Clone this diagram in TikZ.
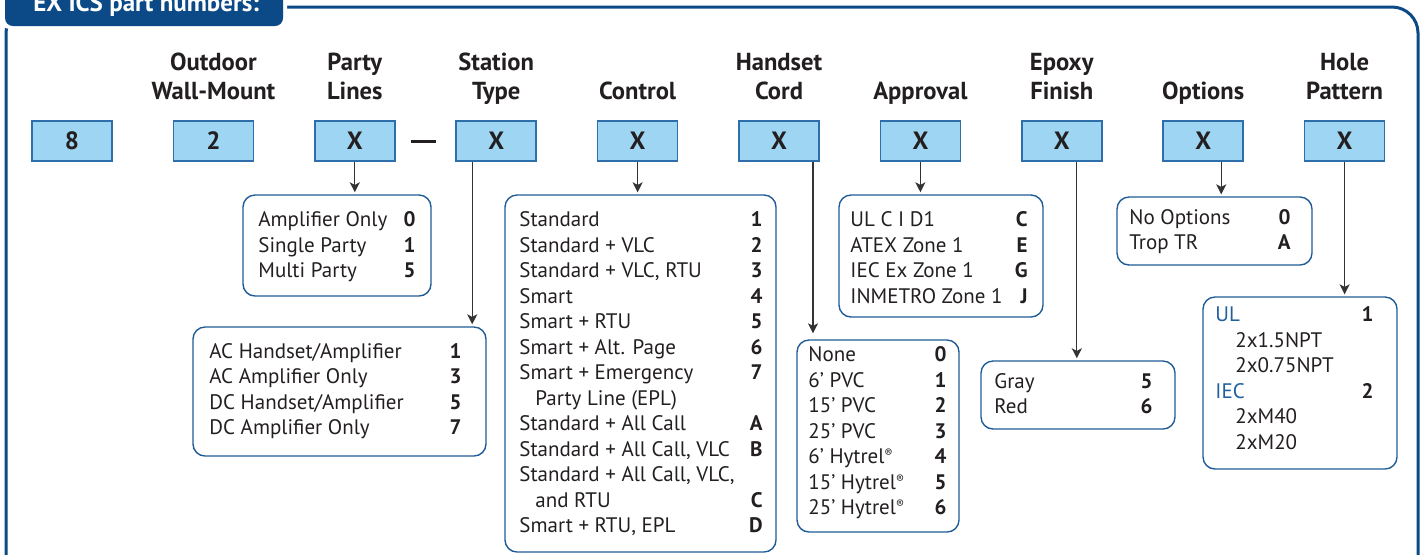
\documentclass[tikz,border=0pt]{standalone}
\usepackage{fontspec}
\setmainfont{PT Sans}
\usepackage{array}
\usetikzlibrary{arrows.meta}
\definecolor{frameblue}{HTML}{0B4A87}
\definecolor{boxfill}{HTML}{9DD5F2}
\definecolor{boxline}{HTML}{2E6EAA}
\definecolor{optline}{HTML}{1F5C97}
\definecolor{txt}{HTML}{231F20}
\definecolor{arrgray}{HTML}{333333}
\definecolor{ulblue}{HTML}{1F5FA0}
\newcommand{\regmark}{{\fontsize{6}{6}\selectfont\raisebox{3pt}{®}}}
\newcommand{\ind}[1]{\hspace*{#1}}
\begin{document}
\begin{tikzpicture}[x=0.5pt,y=-0.5pt,
  font=\fontsize{10.5}{12.75}\selectfont, text=txt,
  codebox/.style={draw=boxline, line width=0.75pt, fill=boxfill, minimum width=40pt, minimum height=20pt, inner sep=0pt, font=\fontsize{12.5}{14}\selectfont\bfseries},
  hdr/.style={anchor=base, inner sep=0pt, font=\fontsize{12.3}{14.5}\selectfont\bfseries},
  optbox/.style={draw=optline, line width=0.7pt, rounded corners=6pt, inner sep=0pt},
  lefttxt/.style={anchor=base west, inner sep=0pt},
  righttxt/.style={anchor=base east, inner sep=0pt, font=\fontsize{10.5}{12.75}\selectfont\bfseries},
  arr/.style={draw=arrgray, line width=0.65pt, shorten >=1pt, -{Stealth[length=5pt,width=5pt,inset=1.3pt]}},
  dashmark/.style={draw=txt, line width=1.5pt, shorten <=7.5pt, shorten >=9.5pt}
]
\useasboundingbox (0,0) rectangle (1422,554);
\clip (0,0) rectangle (1422,554);
\renewcommand\arraystretch{1}
% frame
\draw[frameblue, line width=1.5pt, rounded corners=13pt] (6,580) -- (6,7) -- (1418,7) -- (1418,580);
% title tab
\fill[white, rounded corners=5pt] (0,-30) rectangle (287,29);
\fill[frameblue, rounded corners=4pt] (5,-30) rectangle (283,26);
\node[anchor=base west, inner sep=0pt, text=white, font=\fontsize{12.5}{14}\selectfont\bfseries] (title) at (33,11) {EX ICS part numbers:};

% headers
\node[hdr] (h2) at (213.4,99) {\begin{tabular}[b]{@{}c@{}}Outdoor\\Wall-Mount\end{tabular}};
\node[hdr] (h3) at (354.8,99) {\begin{tabular}[b]{@{}c@{}}Party\\Lines\end{tabular}};
\node[hdr] (h4) at (496.2,99) {\begin{tabular}[b]{@{}c@{}}Station\\Type\end{tabular}};
\node[hdr] (h5) at (637.6,99) {Control};
\node[hdr] (h6) at (779,99) {\begin{tabular}[b]{@{}c@{}}Handset\\Cord\end{tabular}};
\node[hdr] (h7) at (920.4,99) {Approval};
\node[hdr] (h8) at (1061.8,99) {\begin{tabular}[b]{@{}c@{}}Epoxy\\Finish\end{tabular}};
\node[hdr] (h9) at (1203.2,99) {Options};
\node[hdr] (h10) at (1344.6,99) {\begin{tabular}[b]{@{}c@{}}Hole\\Pattern\end{tabular}};

% code boxes
\node[codebox] (c1) at (72,141) {8};
\node[codebox] (c2) at (213.4,141) {2};
\node[codebox] (pl) at (354.8,141) {X};
\node[codebox] (st) at (496.2,141) {X};
\node[codebox] (ct) at (637.6,141) {X};
\node[codebox] (hs) at (779,141) {X};
\node[codebox] (ap) at (920.4,141) {X};
\node[codebox] (ep) at (1061.8,141) {X};
\node[codebox] (op) at (1203.2,141) {X};
\node[codebox] (hp) at (1344.6,141) {X};
\draw[dashmark] (pl.east) -- (st.west);

% option boxes
\node[optbox, minimum width=94pt, minimum height=50.5pt] (plopt) at (337,245.5) {};
\node[optbox, minimum width=146.5pt, minimum height=64.5pt] (stopt) at (339.5,391.5) {};
\node[optbox, minimum width=135.5pt, minimum height=178.5pt] (ctopt) at (640.5,373.5) {};
\node[optbox, minimum width=81pt, minimum height=96pt] (hsopt) at (878,436) {};
\node[optbox, minimum width=102pt, minimum height=61pt] (apopt) at (941,256) {};
\node[optbox, minimum width=97pt, minimum height=34pt] (epopt) at (1078,395) {};
\node[optbox, minimum width=97.5pt, minimum height=34pt] (opopt) at (1214.5,231) {};
\node[optbox, minimum width=97pt, minimum height=86pt] (hpopt) at (1300,383) {};

% arrows
\draw[arr] (pl.south) -- (pl.south |- plopt.north);
\draw[arr] ([xshift=-12pt]st.south) -- ([xshift=-12pt]st.south |- stopt.north);
\draw[arr] (ct.south) -- (ct.south |- ctopt.north);
\draw[arr, shorten >=3pt] ([xshift=17pt]hs.south) -- ([xshift=17pt]hs.south |- hsopt.north);
\draw[arr] (ap.south) -- (ap.south |- apopt.north);
\draw[arr] ([xshift=7.5pt]ep.south) -- ([xshift=7.5pt]ep.south |- epopt.north);
\draw[arr] ([xshift=9pt]op.south) -- ([xshift=9pt]op.south |- opopt.north);
\draw[arr] (hp.south) -- (hp.south |- hpopt.north);

% texts
\node[lefttxt] (plL) at (258,226.5) {\begin{tabular}[t]{@{}l@{}}Amplifier Only\\Single Party\\Multi Party\end{tabular}};
\node[righttxt] (plR) at (416,226.5) {\begin{tabular}[t]{@{}r@{}}0\\1\\5\end{tabular}};

\node[lefttxt] (stL) at (209,358) {\begin{tabular}[t]{@{}l@{}}AC Handset/Amplifier\\AC Amplifier Only\\DC Handset/Amplifier\\DC Amplifier Only\end{tabular}};
\node[righttxt] (stR) at (462,358) {\begin{tabular}[t]{@{}r@{}}1\\3\\5\\7\end{tabular}};

\node[lefttxt] (ctL) at (519,226.5) {\begin{tabular}[t]{@{}l@{}}Standard\\Standard + VLC\\Standard + VLC, RTU\\Smart\\Smart + RTU\\Smart + Alt. Page\\Smart + Emergency\\\ind{8pt}Party Line (EPL)\\Standard + All Call\\Standard + All Call, VLC\\Standard + All Call, VLC,\\\ind{8pt}and RTU\\Smart + RTU, EPL\end{tabular}};
\node[righttxt] (ctR) at (763,226.5) {\begin{tabular}[t]{@{}r@{}}1\\2\\3\\4\\5\\6\\7\\ \\A\\B\\ \\C\\D\end{tabular}};

\node[lefttxt] (hsL) at (808,361.5) {\begin{tabular}[t]{@{}l@{}}None\\6’ PVC\\15’ PVC\\25’ PVC\\6’ Hytrel\regmark\\15’ Hytrel\regmark\\25’ Hytrel\regmark\end{tabular}};
\node[righttxt] (hsR) at (947,361.5) {\begin{tabular}[t]{@{}r@{}}0\\1\\2\\3\\4\\5\\6\end{tabular}};

\node[lefttxt] (apL) at (850,226.5) {\begin{tabular}[t]{@{}l@{}}UL C I D1\\ATEX Zone 1\\IEC Ex Zone 1\\INMETRO Zone 1\end{tabular}};
\node[righttxt] (apR) at (1028,226.5) {\begin{tabular}[t]{@{}r@{}}C\\E\\G\\J\end{tabular}};

\node[lefttxt] (epL) at (994,388) {\begin{tabular}[t]{@{}l@{}}Gray\\Red\end{tabular}};
\node[righttxt] (epR) at (1153,388) {\begin{tabular}[t]{@{}r@{}}5\\6\end{tabular}};

\node[lefttxt] (opL) at (1129,224) {\begin{tabular}[t]{@{}l@{}}No Options\\Trop TR\end{tabular}};
\node[righttxt] (opR) at (1291,224) {\begin{tabular}[t]{@{}r@{}}0\\A\end{tabular}};

\node[lefttxt] (hpL) at (1215,321.5) {\begin{tabular}[t]{@{}l@{}}{\color{ulblue}UL}\\\ind{10pt}2x1.5NPT\\\ind{10pt}2x0.75NPT\\{\color{ulblue}IEC}\\\ind{10pt}2xM40\\\ind{10pt}2xM20\end{tabular}};
\node[righttxt] (hpR) at (1374,321.5) {\begin{tabular}[t]{@{}r@{}}1\\ \\ \\2\end{tabular}};
\end{tikzpicture}
\end{document}
